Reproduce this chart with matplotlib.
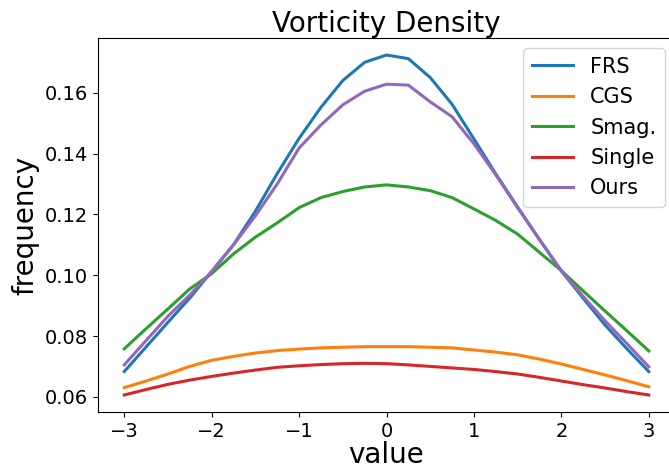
import numpy as np
import matplotlib
matplotlib.use("Agg")
import matplotlib.pyplot as plt

# values, x from -3 to 3 in steps of 0.25
x = np.arange(-3, 3.01, 0.25)

frs = [0.0683, 0.0764, 0.0845, 0.0925, 0.1012, 0.1100, 0.1210, 0.1334, 0.1450,
       0.1552, 0.1640, 0.1700, 0.1724, 0.1712, 0.1650, 0.1562, 0.1448, 0.1333,
       0.1224, 0.1117, 0.1014, 0.0924, 0.0836, 0.0758, 0.0683]
cgs = [0.0630, 0.0652, 0.0675, 0.0700, 0.0720, 0.0733, 0.0744, 0.0752, 0.0757,
       0.0761, 0.0763, 0.0765, 0.0765, 0.0765, 0.0763, 0.0761, 0.0754, 0.0747,
       0.0738, 0.0724, 0.0708, 0.0690, 0.0672, 0.0653, 0.0633]
smag = [0.0758, 0.0824, 0.0889, 0.0955, 0.1005, 0.1070, 0.1125, 0.1172, 0.1222,
        0.1255, 0.1275, 0.1290, 0.1297, 0.1290, 0.1278, 0.1255, 0.1218, 0.1180,
        0.1135, 0.1075, 0.1015, 0.0948, 0.0882, 0.0817, 0.0751]
single = [0.0606, 0.0624, 0.0641, 0.0655, 0.0667, 0.0678, 0.0688, 0.0697, 0.0702,
          0.0706, 0.0709, 0.0710, 0.0709, 0.0705, 0.0700, 0.0695, 0.0690, 0.0683,
          0.0675, 0.0664, 0.0652, 0.0640, 0.0629, 0.0617, 0.0606]
ours = [0.0705, 0.0785, 0.0865, 0.0935, 0.1012, 0.1100, 0.1195, 0.1300, 0.1418,
        0.1494, 0.1560, 0.1605, 0.1628, 0.1625, 0.1570, 0.1521, 0.1432, 0.1330,
        0.1222, 0.1117, 0.1014, 0.0930, 0.0850, 0.0775, 0.0699]

labels = ["FRS", "CGS", "Smag.", "Single", "Ours"]

fig = plt.figure(figsize=(6.69, 4.72), dpi=100)
# right edge of the axes runs slightly past the figure, as in the reference
ax = fig.add_axes([98 / 669, 1 - 412 / 472, (675 - 98) / 669, (412 - 38) / 472])

for y, lab in zip([frs, cgs, smag, single, ours], labels):
    ax.plot(x, y, lw=2.2, label=lab)

ax.set_title("Vorticity Density", fontsize=20, pad=4)
ax.set_xlabel("value", fontsize=20, labelpad=0)
ax.set_ylabel("frequency", fontsize=20)
ax.tick_params(labelsize=14)
ax.legend(fontsize=15, loc="upper right")

fig.savefig("out.png", dpi=100)
